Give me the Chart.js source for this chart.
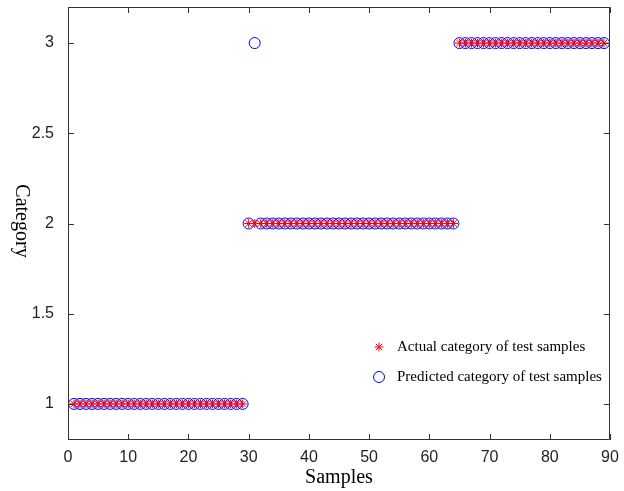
<!DOCTYPE html>
<html>
<head>
<meta charset="utf-8">
<script src="https://cdn.jsdelivr.net/npm/chart.js@4.4.1/dist/chart.umd.min.js"></script>
<style>
  html, body { margin: 0; padding: 0; background: #fff; }
  #wrap { width: 624px; height: 491px; }
</style>
</head>
<body>
<div id="wrap"><canvas id="cat"></canvas></div>
<script>
// サンプル番号と分類結果
const samples = [
  1, 2, 3, 4, 5, 6, 7, 8, 9, 10, 11, 12, 13, 14, 15, 16, 17, 18, 19, 20,
  21, 22, 23, 24, 25, 26, 27, 28, 29, 30, 31, 32, 33, 34, 35, 36, 37, 38, 39, 40,
  41, 42, 43, 44, 45, 46, 47, 48, 49, 50, 51, 52, 53, 54, 55, 56, 57, 58, 59, 60,
  61, 62, 63, 64, 65, 66, 67, 68, 69, 70, 71, 72, 73, 74, 75, 76, 77, 78, 79, 80,
  81, 82, 83, 84, 85, 86, 87, 88, 89
];
const actual = [
  1, 1, 1, 1, 1, 1, 1, 1, 1, 1, 1, 1, 1, 1, 1, 1, 1, 1, 1, 1,
  1, 1, 1, 1, 1, 1, 1, 1, 1, 2, 2, 2, 2, 2, 2, 2, 2, 2, 2, 2,
  2, 2, 2, 2, 2, 2, 2, 2, 2, 2, 2, 2, 2, 2, 2, 2, 2, 2, 2, 2,
  2, 2, 2, 2, 3, 3, 3, 3, 3, 3, 3, 3, 3, 3, 3, 3, 3, 3, 3, 3,
  3, 3, 3, 3, 3, 3, 3, 3, 3
];
const predicted = [
  1, 1, 1, 1, 1, 1, 1, 1, 1, 1, 1, 1, 1, 1, 1, 1, 1, 1, 1, 1,
  1, 1, 1, 1, 1, 1, 1, 1, 1, 2, 3, 2, 2, 2, 2, 2, 2, 2, 2, 2,
  2, 2, 2, 2, 2, 2, 2, 2, 2, 2, 2, 2, 2, 2, 2, 2, 2, 2, 2, 2,
  2, 2, 2, 2, 3, 3, 3, 3, 3, 3, 3, 3, 3, 3, 3, 3, 3, 3, 3, 3,
  3, 3, 3, 3, 3, 3, 3, 3, 3
];
const xTicks = [0, 10, 20, 30, 40, 50, 60, 70, 80, 90];
const yTicks = [1, 1.5, 2, 2.5, 3];

const toPoints = (ys) => samples.map((x, i) => ({ x: x, y: ys[i] }));

// 枠と内向きの目盛、凡例、縦軸タイトル
const boxPlugin = {
    id: 'box',
    afterDraw(chart) {
        const c = chart.ctx;
        const a = chart.chartArea;
        const xs = chart.scales.x;
        const ys = chart.scales.y;
        const tl = 6;
        c.save();
        c.strokeStyle = '#333';
        c.lineWidth = 1;
        c.beginPath();
        c.rect(a.left + 0.5, a.top + 0.5, a.right - a.left - 1, a.bottom - a.top - 1);
        xTicks.forEach(v => {
            const px = Math.round(xs.getPixelForValue(v)) + 0.5;
            c.moveTo(px, a.bottom); c.lineTo(px, a.bottom - tl);
            c.moveTo(px, a.top); c.lineTo(px, a.top + tl);
        });
        yTicks.forEach(v => {
            const py = Math.round(ys.getPixelForValue(v)) + 0.5;
            c.moveTo(a.left, py); c.lineTo(a.left + tl, py);
            c.moveTo(a.right, py); c.lineTo(a.right - tl, py);
        });
        c.stroke();

        // 凡例
        const lx = 379, ly = [347, 377];
        c.font = '15px "Liberation Serif", "Times New Roman", serif';
        c.textBaseline = 'middle';
        c.textAlign = 'left';
        chart.data.datasets.forEach((ds, i) => {
            c.strokeStyle = ds.borderColor;
            c.fillStyle = 'rgba(0, 0, 0, 0)';
            c.lineWidth = 1;
            Chart.helpers.drawPoint(c, {
                pointStyle: ds.pointStyle,
                radius: ds.pointRadius,
                borderWidth: 1,
                rotation: 0
            }, lx, ly[i]);
            c.fillStyle = '#000';
            c.fillText(ds.label, lx + 18, ly[i]);
        });

        // 縦軸タイトル (時計回りに回転)
        c.fillStyle = '#000';
        c.translate(16, 221);
        c.rotate(Math.PI / 2);
        c.font = '20px "Liberation Serif", "Times New Roman", serif';
        c.textAlign = 'center';
        c.textBaseline = 'alphabetic';
        c.fillText('Category', 0, 0);
        c.restore();
    }
};

const ctx = document.getElementById('cat');

new Chart(ctx, {
    type: 'scatter',
    data: {
        datasets: [
            {
                label: 'Actual category of test samples',
                data: toPoints(actual),
                pointStyle: 'star',
                pointRadius: 4.5,
                borderColor: 'rgb(255, 0, 0)',
                backgroundColor: 'rgba(0, 0, 0, 0)',
                borderWidth: 1,
            },
            {
                label: 'Predicted category of test samples',
                data: toPoints(predicted),
                pointStyle: 'circle',
                pointRadius: 5.5,
                borderColor: 'rgb(0, 0, 255)',
                backgroundColor: 'rgba(0, 0, 0, 0)',
                borderWidth: 1,
            }
        ]
    },
    options: {
        responsive: true,
        maintainAspectRatio: false,
        animation: false,
        events: [],
        layout: {
            padding: { top: 7, right: 14, left: 0, bottom: 0 }
        },
        plugins: {
            legend: { display: false },
            tooltip: { enabled: false }
        },
        scales: {
            x: {
                type: 'linear',
                min: 0,
                max: 90,
                grid: { display: false },
                border: { display: false },
                afterBuildTicks: (s) => { s.ticks = xTicks.map(v => ({ value: v })); },
                afterFit: (s) => { s.height = 51; s.paddingLeft = 0; s.paddingRight = 0; },
                ticks: {
                    padding: 0,
                    color: '#222',
                    font: { family: '"Liberation Sans", Arial, sans-serif', size: 16 },
                    callback: (v) => String(v)
                },
                title: {
                    display: true,
                    text: 'Samples',
                    color: '#000',
                    padding: { top: 0, bottom: 1 },
                    font: { family: '"Liberation Serif", "Times New Roman", serif', size: 20 }
                }
            },
            y: {
                type: 'linear',
                min: 0.8,
                max: 3.2,
                grid: { display: false },
                border: { display: false },
                afterBuildTicks: (s) => { s.ticks = yTicks.map(v => ({ value: v })); },
                afterFit: (s) => { s.width = 68; s.paddingTop = 0; s.paddingBottom = 0; },
                ticks: {
                    padding: 6,
                    color: '#222',
                    font: { family: '"Liberation Sans", Arial, sans-serif', size: 16 },
                    callback: (v) => String(v)
                }
            }
        }
    },
    plugins: [boxPlugin]
});
</script>
</body>
</html>
